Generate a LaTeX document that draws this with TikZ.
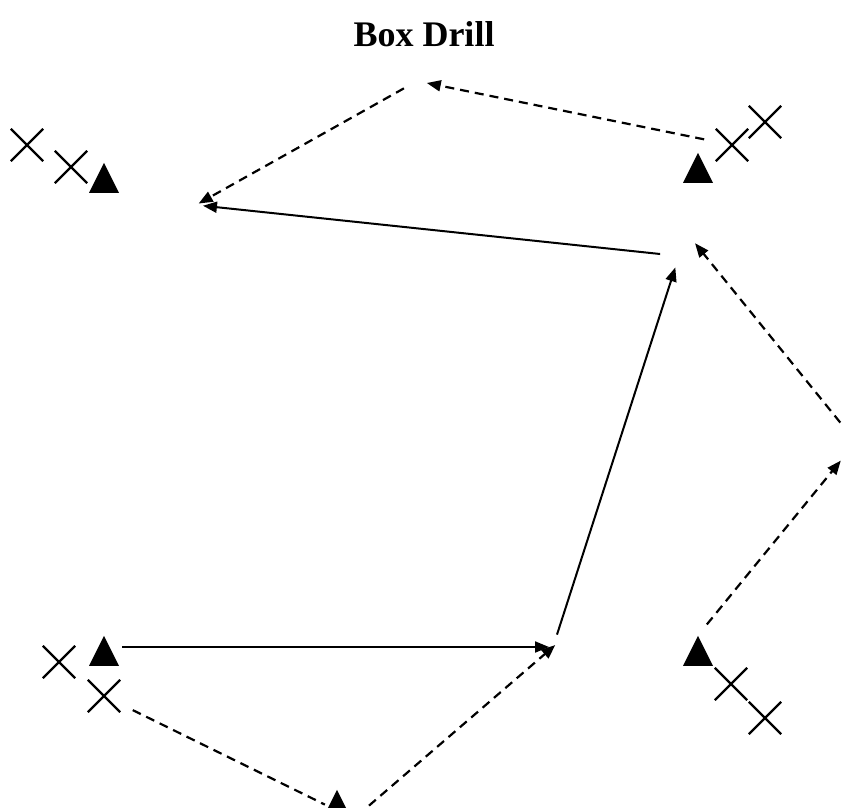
\documentclass[tikz,border=0pt]{standalone}
\usepackage{fontspec}
\setmainfont{Liberation Serif}
\usetikzlibrary{shapes.geometric,shapes.misc,arrows.meta}

\begin{document}
\begin{tikzpicture}[x=1pt,y=-1pt,
  cone/.style={isosceles triangle, isosceles triangle stretches, shape border rotate=90,
    minimum width=30pt, minimum height=30pt, inner sep=0pt, fill=black, anchor=south},
  player/.style={cross out, draw, line width=2.3pt, minimum size=30pt, inner sep=0pt},
  pass/.style={line width=2pt, -{Triangle[length=14pt,width=11pt]}},
  run/.style={line width=2.2pt, dash pattern=on 9pt off 6pt, -{Triangle[length=14pt,width=11pt]}}]

\useasboundingbox (0,0) rectangle (843,808);

\node (title) at (424,47) [anchor=base, font=\bfseries\fontsize{36}{40}\selectfont] {Box Drill};

% cones
\node (cTL) at (104,193) [cone] {};
\node (cTR) at (698,183) [cone] {};
\node (cBL) at (104,666) [cone] {};
\node (cBR) at (698,666) [cone] {};
\node (cBot) at (337,820) [cone] {};

% players
\node (pTL1) at (27,145) [player] {};
\node (pTL2) at (71,167) [player] {};
\node (pTR1) at (732,145) [player] {};
\node (pTR2) at (765,122) [player] {};
\node (pBL1) at (59,662) [player] {};
\node (pBL2) at (104,696) [player] {};
\node (pBR1) at (731,684) [player] {};
\node (pBR2) at (765,718) [player] {};

% spots
\coordinate (tl) at (196,205);
\coordinate (top) at (417,81);
\coordinate (rt) at (679,256);
\coordinate (rtin) at (690,237);
\coordinate (rgt) at (856,442);
\coordinate (bm) at (553,647);

\draw[pass, shorten <=18pt, shorten >=4pt] (cBL.apex |- bm) -- (bm);
\draw[pass, shorten <=13pt, shorten >=12pt] (bm) -- (rt);
\draw[pass, shorten <=19pt, shorten >=7pt] (rt) -- (tl);

\draw[run, -, shorten <=14pt, shorten >=4pt] (pBL2) -- (cBot);
\draw[run, shorten <=22pt, shorten >=-3pt] (cBot.right corner) -- (bm);
\draw[run, shorten <=14pt, shorten >=24pt] (cBR.apex) -- (rgt);
\draw[run, shorten <=10pt, shorten >=8pt] (rgt) -- (rtin);
\draw[run, shorten <=12pt, shorten >=10pt] (pTR1) -- (top);
\draw[run, shorten <=15pt, shorten >=3pt] (top) -- (tl);
\end{tikzpicture}
\end{document}
